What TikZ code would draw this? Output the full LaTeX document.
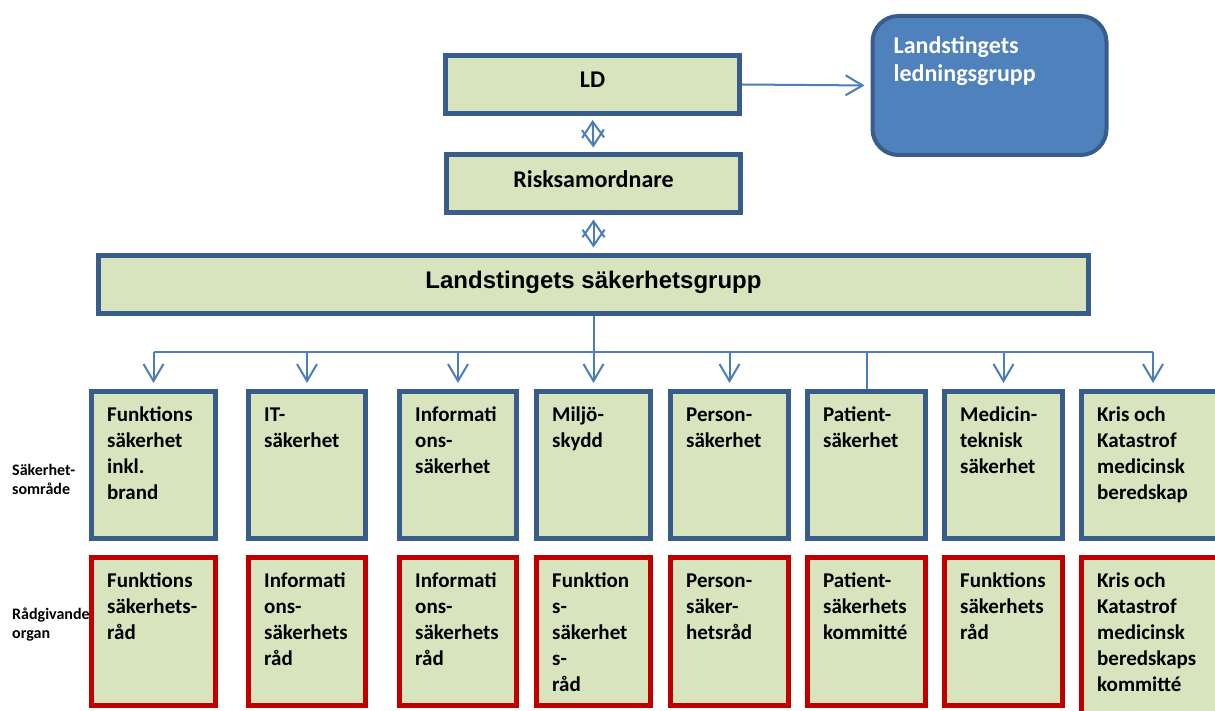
\documentclass[tikz,border=0pt]{standalone}
\usepackage{fontspec}
\setmainfont{Carlito}
\newfontfamily\arialfont{Liberation Sans}
\definecolor{boxgreen}{HTML}{D7E4BD}
\definecolor{boxblue}{HTML}{385D8A}
\definecolor{boxred}{HTML}{C00000}
\definecolor{groupblue}{HTML}{4F81BD}
\definecolor{linkblue}{HTML}{4A7EBB}
\usepackage{tikz}
\usetikzlibrary{arrows.meta}
\newcommand{\lines}[1]{\begin{tabular}[t]{@{}l@{}}#1\end{tabular}}

\begin{document}
\begin{tikzpicture}[x=1pt, y=-1pt,
    topbox/.style={draw=boxblue, fill=boxgreen, line width=5pt, inner sep=0pt,
      minimum width=294pt, minimum height=58pt, text depth=9pt,
      font=\bfseries\fontsize{24}{28}\selectfont},
    area/.style={draw=boxblue, fill=boxgreen, line width=5pt, inner sep=0pt,
      minimum height=147pt},
    board/.style={draw=boxred, fill=boxgreen, line width=5pt, inner sep=0pt,
      minimum height=148pt},
    boxtext/.style={anchor=base west, inner sep=0pt,
      font=\bfseries\fontsize{21}{26}\selectfont},
    sidetext/.style={anchor=base west, inner sep=0pt,
      font=\bfseries\fontsize{16}{19}\selectfont},
    link/.style={linkblue, line width=2pt},
    arrow/.style={link, -{Straight Barb[length=17pt, width=20pt]}},
    twoway/.style={link, {Straight Barb[length=16pt, width=22pt]}-{Straight Barb[length=16pt, width=22pt]}},
  ]
    \useasboundingbox (0,0) rectangle (1215,711);
    \clip (0,0) rectangle (1215,711);

    \node[topbox] (ld) at (592.5,84.5) {LD};
    \node[topbox] (risk) at (593.5,184) {Risksamordnare};
    \node[topbox, minimum width=990pt, minimum height=57pt,
      font=\arialfont\bfseries\fontsize{24}{28}\selectfont] (lsg) at (593.5,284.5)
      {Landstingets säkerhetsgrupp};

    \node[draw=boxblue, fill=groupblue, line width=4pt, rounded corners=26pt,
      minimum width=234pt, minimum height=139pt] (ledning) at (989.5,85.5) {};
    \node[anchor=base west, inner sep=0pt, text=white,
      font=\bfseries\fontsize{24}{28}\selectfont] (ledningtext)
      at ([shift={(23,40)}]ledning.north west) {\lines{Landstingets\\ledningsgrupp}};

    \node[area, minimum width=124pt] (a1) at (153.5,465) {};
    \node[area, minimum width=117pt] (a2) at (307,465) {};
    \node[area, minimum width=117pt] (a3) at (458,465) {};
    \node[area, minimum width=114pt] (a4) at (593.5,465) {};
    \node[area, minimum width=118pt] (a5) at (729.5,465) {};
    \node[area, minimum width=118pt] (a6) at (866.5,465) {};
    \node[area, minimum width=118pt] (a7) at (1003.5,465) {};
    \node[area, minimum width=143pt] (a8) at (1153,465) {};

    \node[board, minimum width=124pt] (r1) at (153.5,631.5) {};
    \node[board, minimum width=117pt] (r2) at (307,631.5) {};
    \node[board, minimum width=117pt] (r3) at (458,631.5) {};
    \node[board, minimum width=114pt] (r4) at (593.5,631.5) {};
    \node[board, minimum width=118pt] (r5) at (729.5,631.5) {};
    \node[board, minimum width=118pt] (r6) at (866.5,631.5) {};
    \node[board, minimum width=118pt] (r7) at (1003.5,631.5) {};
    \node[board, minimum width=143pt, minimum height=170pt] (r8) at (1153,642.5) {};

    \node[boxtext] (ta1) at ([shift={(18,32)}]a1.north west) {\lines{Funktions\\säkerhet\\inkl.\\brand}};
    \node[boxtext] (ta2) at ([shift={(18,32)}]a2.north west) {\lines{IT-\\säkerhet}};
    \node[boxtext] (ta3) at ([shift={(18,32)}]a3.north west) {\lines{Informati\\ons-\\säkerhet}};
    \node[boxtext] (ta4) at ([shift={(18,32)}]a4.north west) {\lines{Miljö-\\skydd}};
    \node[boxtext] (ta5) at ([shift={(18,32)}]a5.north west) {\lines{Person-\\säkerhet}};
    \node[boxtext] (ta6) at ([shift={(18,32)}]a6.north west) {\lines{Patient-\\säkerhet}};
    \node[boxtext] (ta7) at ([shift={(18,32)}]a7.north west) {\lines{Medicin-\\teknisk\\säkerhet}};
    \node[boxtext] (ta8) at ([shift={(18,32)}]a8.north west) {\lines{Kris och\\Katastrof\\medicinsk\\beredskap}};

    \node[boxtext] (tr1) at ([shift={(18,32)}]r1.north west) {\lines{Funktions\\säkerhets-\\råd}};
    \node[boxtext] (tr2) at ([shift={(18,32)}]r2.north west) {\lines{Informati\\ons-\\säkerhets\\råd}};
    \node[boxtext] (tr3) at ([shift={(18,32)}]r3.north west) {\lines{Informati\\ons-\\säkerhets\\råd}};
    \node[boxtext] (tr4) at ([shift={(18,32)}]r4.north west) {\lines{Funktion\\s-\\säkerhet\\s-\\råd}};
    \node[boxtext] (tr5) at ([shift={(18,32)}]r5.north west) {\lines{Person-\\säker-\\hetsråd}};
    \node[boxtext] (tr6) at ([shift={(18,32)}]r6.north west) {\lines{Patient-\\säkerhets\\kommitté}};
    \node[boxtext] (tr7) at ([shift={(18,32)}]r7.north west) {\lines{Funktions\\säkerhets\\råd}};
    \node[boxtext] (tr8) at ([shift={(18,32)}]r8.north west) {\lines{Kris och\\Katastrof\\medicinsk\\beredskaps\\kommitté}};

    \node[sidetext] (areas) at (12,475) {\lines{Säkerhet-\\sområde}};
    \node[sidetext] (boards) at (12,619) {\lines{Rådgivande\\organ}};

    \draw[arrow, shorten >=6pt] (ld.east) -- (ledning.west);
    \draw[twoway, shorten <=4pt, shorten >=5pt] (ld.south) -- (risk.north);
    \draw[twoway, shorten <=4pt, shorten >=6pt] (risk.south) -- (lsg.north);

    \draw[link] (lsg.south) -- ++(0,36) coordinate (bus);
    \draw[link] (bus -| a1.north) -- (bus -| a8.north);
    \draw[arrow, shorten >=6pt] (bus -| a1.north) -- (a1.north);
    \draw[arrow, shorten >=6pt] (bus -| a2.north) -- (a2.north);
    \draw[arrow, shorten >=6pt] (bus -| a3.north) -- (a3.north);
    \draw[arrow, shorten >=6pt] (bus -| a4.north) -- (a4.north);
    \draw[arrow, shorten >=6pt] (bus -| a5.north) -- (a5.north);
    \draw[link] (bus -| a6.north) -- (a6.north);
    \draw[arrow, shorten >=6pt] (bus -| a7.north) -- (a7.north);
    \draw[arrow, shorten >=6pt] (bus -| a8.north) -- (a8.north);
  \end{tikzpicture}
\end{document}
